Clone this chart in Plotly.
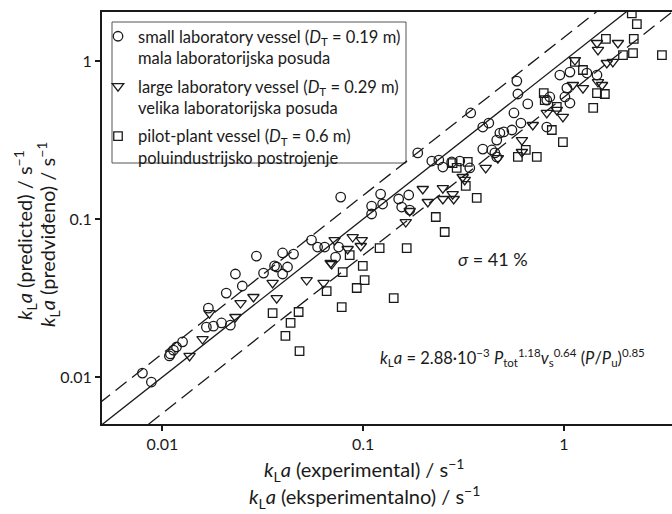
import plotly.graph_objects as go

# ---- data ----
small_x = [0.00795, 0.00881, 0.01083, 0.01096, 0.01135, 0.01175, 0.0126, 0.01656, 0.01795, 0.0197,
           0.0218, 0.01694, 0.0208, 0.0250, 0.0231, 0.0319, 0.0371, 0.0397, 0.0420, 0.0294,
           0.0397, 0.0450, 0.0362, 0.0553, 0.0593, 0.0643, 0.0755, 0.0729, 0.0773, 0.1102,
           0.1102, 0.1222, 0.1250, 0.1503, 0.1687, 0.1556, 0.1706, 0.1871, 0.2198, 0.2382,
           0.2495, 0.2761, 0.3029, 0.3398, 0.3436, 0.3945, 0.4227, 0.583, 0.590, 0.564,
           0.661, 0.611, 0.480, 0.502, 0.551, 0.3945, 0.4375, 0.463, 0.453, 0.463,
           0.822, 0.851, 1.012, 1.035, 1.072, 0.955, 1.072, 1.302, 1.462, 0.822]
small_y = [0.0106, 0.0093, 0.0136, 0.0140, 0.0148, 0.0155, 0.0167, 0.0207, 0.0210, 0.0220,
           0.0213, 0.0273, 0.0340, 0.0377, 0.0449, 0.0455, 0.0497, 0.0449, 0.0497, 0.0583,
           0.0610, 0.0600, 0.0505, 0.0736, 0.0665, 0.0665, 0.0665, 0.0574, 0.1377, 0.1208,
           0.1076, 0.1438, 0.1244, 0.1339, 0.1419, 0.1191, 0.1140, 0.2620, 0.2328, 0.2362,
           0.2133, 0.2297, 0.2328, 0.2104, 0.469, 0.382, 0.405, 0.746, 0.618, 0.469,
           0.535, 0.405, 0.350, 0.356, 0.366, 0.277, 0.2735, 0.316, 0.262, 0.247,
           0.382, 0.592, 0.592, 0.674, 0.542, 0.815, 0.851, 0.839, 0.815, 0.566]

large_x = [0.01365, 0.01585, 0.01715, 0.0231, 0.0245, 0.0284, 0.0354, 0.0371, 0.0523, 0.0635,
           0.0697, 0.0721, 0.0887, 0.0984, 0.0973, 0.0837, 0.0689, 0.1630, 0.1706, 0.1982,
           0.2100, 0.2495, 0.2495, 0.2793, 0.2825, 0.3133, 0.408, 0.469, 0.618, 0.618,
           0.700, 0.3206, 0.822, 0.922, 0.989, 1.109, 1.245, 1.135, 1.462, 1.479,
           1.859, 1.637, 1.754, 1.479, 1.549]
large_y = [0.0136, 0.0174, 0.0254, 0.0240, 0.0294, 0.0321, 0.0394, 0.0316, 0.0411, 0.0394,
           0.0519, 0.0736, 0.0769, 0.0736, 0.0675, 0.0646, 0.0527, 0.0957, 0.1124, 0.1549,
           0.1282, 0.157, 0.1339, 0.1438, 0.1339, 0.1845, 0.2104, 0.243, 0.316, 0.2655,
           0.3936, 0.1767, 0.469, 0.490, 0.443, 0.705, 0.674, 1.014, 1.30, 1.175,
           1.30, 0.971, 0.986, 0.736, 0.705]

pilot_x = [0.0354, 0.0477, 0.0435, 0.0410, 0.0482, 0.0658, 0.0791, 0.0782, 0.0929, 0.1017,
           0.0857, 0.0996, 0.1208, 0.1648, 0.2301, 0.2549, 0.3245, 0.368, 0.2924, 0.332,
           0.142, 2.18, 2.31, 1.62, 2.23, 2.21, 1.97, 3.08, 1.135, 1.245,
           0.794, 0.803, 0.922, 1.462, 1.60, 1.40, 0.989, 0.733, 0.590, 0.646,
           0.871, 0.279]
pilot_y = [0.0254, 0.0258, 0.0220, 0.0182, 0.0146, 0.0350, 0.0462, 0.0277, 0.0366, 0.0411,
           0.0591, 0.0505, 0.0655, 0.0655, 0.1030, 0.0828, 0.162, 0.136, 0.2104, 0.2297,
           0.0316, 2.0, 1.71, 1.38, 1.38, 1.12, 1.09, 1.09, 0.986, 0.877,
           0.627, 0.566, 0.512, 0.627, 0.618, 0.505, 0.307, 0.247, 0.247, 0.2735,
           0.366, 0.226]

line_x = [0.004, 4.0]
line_factors = [1.0, 1.41, 0.59]
line_dashes = ["solid", "14px,7px", "14px,7px"]

tick_vals = [0.01, 0.1, 1]
tick_text = ["0.01", "0.1", "1"]

FONT = "Lato"
INK = "#1a1a1a"

fig = go.Figure()

for f, d in zip(line_factors, line_dashes):
    fig.add_trace(go.Scatter(x=line_x, y=[f * v for v in line_x], mode="lines",
                             line=dict(color=INK, width=1.3, dash=d),
                             showlegend=False, hoverinfo="skip"))

series = [
    (small_x, small_y, "circle-open", 9.5,
     "small laboratory vessel (<i>D</i><sub>T</sub> = 0.19 m)<br>mala laboratorijska posuda"),
    (large_x, large_y, "triangle-down-open", 10,
     "large laboratory vessel (<i>D</i><sub>T</sub> = 0.29 m)<br>velika laboratorijska posuda"),
    (pilot_x, pilot_y, "square-open", 8.5,
     "pilot-plant vessel (<i>D</i><sub>T</sub> = 0.6 m)<br>poluindustrijsko postrojenje"),
]
for i, (xs, ys, sym, sz, name) in enumerate(series):
    fig.add_trace(go.Scatter(x=xs, y=ys, mode="markers", name=name, legendgroup=f"g{i}",
                             marker=dict(symbol=sym, size=sz, color=INK,
                                         line=dict(color=INK, width=1.3))))

W, H = 672, 514
L, R, T, B = 102, 0, 12, 90
pw, ph = W - L - R, H - T - B

def px(x):
    return (x - L) / pw

def py(y):
    return 1 - (y - T) / ph

fig.update_layout(
    width=W, height=H,
    margin=dict(l=L, r=R, t=T, b=B),
    paper_bgcolor="white", plot_bgcolor="white",
    font=dict(family=FONT, color=INK, size=16),
    showlegend=True,
    legend=dict(x=px(98), y=py(19), xanchor="left", yanchor="top",
                bgcolor="rgba(0,0,0,0)", borderwidth=0, valign="top",
                tracegroupgap=4, font=dict(family=FONT, size=16.5, color=INK)),
    xaxis=dict(type="log", range=[-2.30103, 0.5387], tickvals=tick_vals, ticktext=tick_text,
               ticks="outside", ticklen=5, tickwidth=1.5, tickcolor=INK,
               showline=True, linecolor=INK, linewidth=2, mirror=True,
               showgrid=False, zeroline=False, tickfont=dict(size=16)),
    yaxis=dict(type="log", range=[-2.297, 0.310], tickvals=tick_vals, ticktext=tick_text,
               ticks="outside", ticklen=5, tickwidth=1.5, tickcolor=INK,
               showline=True, linecolor=INK, linewidth=2, mirror=False,
               showgrid=False, zeroline=False, tickfont=dict(size=16)),
    shapes=[dict(type="rect", xref="paper", yref="paper",
                 x0=px(112), x1=px(406), y0=py(163), y1=py(22),
                 line=dict(color="#555", width=1), fillcolor="white", layer="below")],
)

ann = [
    dict(text="<i>k</i><sub>L</sub><i>a</i> (experimental) / s<sup>−1</sup>", x=px(364), y=py(470)),
    dict(text="<i>k</i><sub>L</sub><i>a</i> (eksperimentalno) / s<sup>−1</sup>", x=px(364), y=py(497)),
    dict(text="<i>k</i><sub>L</sub><i>a</i> (predicted) / s<sup>−1</sup>", x=px(25), y=py(235), textangle=-90),
    dict(text="<i>k</i><sub>L</sub><i>a</i> (predviđeno) / s<sup>−1</sup>", x=px(48), y=py(235), textangle=-90),
]
for a in ann:
    fig.add_annotation(xref="paper", yref="paper", showarrow=False, xanchor="center", yanchor="middle",
                       font=dict(family=FONT, size=20, color=INK), **a)

fig.add_annotation(xref="paper", yref="paper", showarrow=False, x=px(493), y=py(259),
                   xanchor="center", yanchor="middle", text="<i>σ</i> = 41 %",
                   font=dict(family=FONT, size=18, color=INK))
fig.add_annotation(xref="paper", yref="paper", showarrow=False, x=px(378), y=py(357),
                   xanchor="left", yanchor="middle",
                   text="<i>k</i><sub>L</sub><i>a</i> = 2.88·10<sup>−3</sup> <i>P</i><sub>tot</sub><sup>1.18</sup>"
                        "<i>v</i><sub>s</sub><sup>0.6\u03074</sup> (<i>P</i>/<i>P</i><sub>u</sub>)<sup>0.85</sup>",
                   font=dict(family=FONT, size=16.5, color=INK))

fig.write_html("out.html", config={"displayModeBar": False},
               post_script="document.body.style.margin='0px';document.body.style.overflow='hidden';")
